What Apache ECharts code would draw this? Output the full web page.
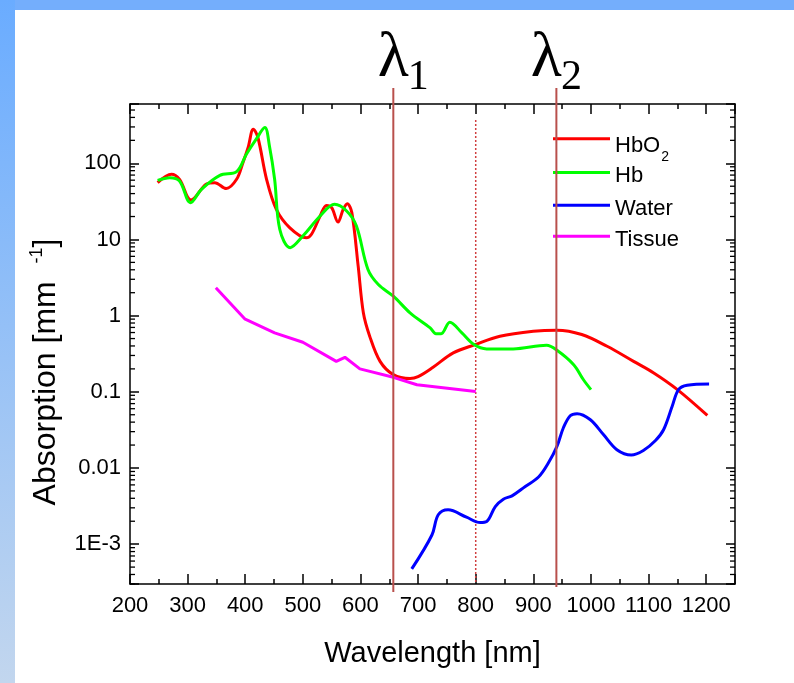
<!DOCTYPE html>
<html>
<head>
<meta charset="utf-8">
<script src="https://cdn.jsdelivr.net/npm/echarts@6/dist/echarts.min.js"></script>
<style>
  html, body { margin: 0; padding: 0; background: #ffffff; }
  #chart { width: 794px; height: 683px; }
</style>
</head>
<body>
<div id="chart"></div>
<script>
// Absorption spectra [mm^-1] against wavelength [nm]
const hbo2Spectrum = [
  [248, 55.7], [272, 71.7], [286, 61.6], [306, 32.9], [332, 53], [347, 55.7], [367, 46.5],
  [385, 61.6], [396, 102], [405, 161], [414, 280], [422, 218], [437, 61.6], [454, 24.8],
  [477, 14.3], [506, 10.5], [515, 11.7], [530, 20.3], [541, 28], [550, 26.1], [561, 16.9],
  [570, 24.8], [577, 29.5], [585, 22.5], [596, 4.47], [605, 1.09], [616, 0.537], [634, 0.251],
  [657, 0.168], [686, 0.149], [700, 0.158], [726, 0.21], [761, 0.324], [799, 0.417],
  [842, 0.537], [900, 0.624], [941, 0.645], [984, 0.565], [1028, 0.396], [1074, 0.251],
  [1109, 0.177], [1150, 0.107], [1202, 0.049]
];
const hbSpectrum = [
  [248, 59.7], [269, 64.6], [286, 58.5], [305, 30.4], [324, 45.5], [356, 69.5], [385, 77.6],
  [402, 131], [419, 207], [434, 294], [442, 169], [451, 61.6], [460, 13.5], [478, 7.8],
  [500, 11.1], [530, 20.3], [555, 28.9], [576, 23.6], [593, 15], [613, 4.04], [631, 2.56],
  [657, 1.8], [686, 1.09], [721, 0.69], [731, 0.58], [740, 0.58], [755, 0.82], [776, 0.594],
  [797, 0.417], [819, 0.366], [865, 0.366], [923, 0.408], [941, 0.351], [970, 0.227],
  [987, 0.144], [1000, 0.107]
];
const waterSpectrum = [
  [689, 4.73e-4], [724, 1.32e-3], [735, 2.43e-3], [752, 2.82e-3], [784, 2.26e-3],
  [808, 1.92e-3], [819, 1.98e-3], [834, 3.12e-3], [848, 3.9e-3], [863, 4.31e-3],
  [886, 5.72e-3], [909, 7.6e-3], [926, 0.0116], [941, 0.0192], [952, 0.0335], [964, 0.0486],
  [976, 0.0517], [999, 0.043], [1022, 0.0273], [1045, 0.0174], [1070, 0.0148], [1091, 0.017],
  [1112, 0.023], [1126, 0.0318], [1141, 0.0646], [1152, 0.107], [1167, 0.122], [1205, 0.127]
];
const tissueSpectrum = [
  [349, 2.32], [399, 0.908], [451, 0.595], [500, 0.447], [558, 0.251], [573, 0.284],
  [599, 0.2], [657, 0.155], [698, 0.124], [800, 0.101]
];

const seriesNames = ['HbO2', 'Hb', 'Water', 'Tissue'];
const seriesColors = ['#ff0000', '#00ff00', '#0000ff', '#ff00ff'];

const yTickValues = [1e-3, 0.01, 0.1, 1, 10, 100];
const yTickTexts = ['1E-3', '0.01', '0.1', '1', '10', '100'];

// Probe wavelengths λ1, λ2 and the dotted reference line
const probeWavelengths = [657, 940];
const probeSubscripts = ['1', '2'];
const referenceWavelengths = [800];

const X_MIN = 200, X_MAX = 1250, Y_MIN = 3e-4, Y_MAX = 600;
const FONT = '"Liberation Sans", Arial, sans-serif';
const SERIF = '"Liberation Serif", "Times New Roman", serif';

// log minor ticks (2..9 × 10^k) inside the axis range
const yMinorTicks = [];
for (let k = -4; k <= 2; k++) {
  for (let m = 2; m <= 9; m++) {
    const v = m * Math.pow(10, k);
    if (v > Y_MIN && v < Y_MAX) yMinorTicks.push([X_MIN, v]);
  }
}

const lambdaShift = [0, -10];
const lineOverhang = [8, 3];

const chart = echarts.init(document.getElementById('chart'), null, { renderer: 'canvas' });

const axisLineStyle = { color: '#000', width: 1.5 };

function xAxisBase(position, showLabels) {
  return {
    type: 'value', position, min: X_MIN, max: X_MAX, interval: 100,
    axisLine: { show: true, onZero: false, lineStyle: axisLineStyle },
    axisTick: { show: true, inside: true, length: 10, lineStyle: { color: '#000', width: 1.5 } },
    minorTick: { show: true, splitNumber: 2, length: 5, lineStyle: { color: '#000', width: 1.5 } },
    splitLine: { show: false },
    minorSplitLine: { show: false },
    axisLabel: {
      show: showLabels, fontSize: 22, fontFamily: FONT, color: '#000', margin: 11,
      formatter: v => (v % 100 === 0 && v <= 1200) ? String(v) : ''
    }
  };
}

function yAxisBase(position, showLabels) {
  return {
    type: 'log', logBase: 10, position, min: Y_MIN, max: Y_MAX,
    axisLine: { show: true, onZero: false, lineStyle: axisLineStyle },
    axisTick: { show: true, inside: true, length: 9, lineStyle: { color: '#000', width: 1.5 } },
    splitLine: { show: false },
    axisLabel: {
      show: showLabels, fontSize: 22, fontFamily: FONT, color: '#000', margin: 9,
      formatter: v => {
        const i = yTickValues.findIndex(t => Math.abs(Math.log10(t) - Math.log10(v)) < 1e-6);
        return i >= 0 ? yTickTexts[i] : '';
      }
    }
  };
}

const legendTops = [126.8, 157.4, 190.3, 221.2];
const legends = seriesNames.map((name, i) => ({
  data: [name],
  orient: 'vertical',
  left: 553,
  top: legendTops[i],
  padding: 0,
  icon: 'rect',
  itemWidth: 57,
  itemHeight: 3,
  selectedMode: false,
  formatter: n => n === 'HbO2' ? '{m|HbO}{sub|2}' : '{n|' + n + '}',
  textStyle: {
    fontSize: 22, fontFamily: FONT, color: '#000',
    rich: {
      n: { fontSize: 22, fontFamily: FONT, color: '#000', lineHeight: 24, padding: [8, 0, 0, 0] },
      m: { fontSize: 22, fontFamily: FONT, color: '#000', lineHeight: 24, padding: [8, 0, 0, 0], verticalAlign: 'top' },
      sub: { fontSize: 14, fontFamily: FONT, color: '#000', lineHeight: 14, padding: [23, 0, 0, 1], verticalAlign: 'top' }
    }
  }
}));

const spectra = [hbo2Spectrum, hbSpectrum, waterSpectrum, tissueSpectrum];
const smoothing = [0.35, 0.35, 0.35, 0];

const lineSeries = spectra.map((data, i) => ({
  name: seriesNames[i],
  type: 'line',
  data,
  symbol: 'none',
  smooth: smoothing[i],
  clip: true,
  lineStyle: { color: seriesColors[i], width: 3 },
  itemStyle: { color: seriesColors[i] },
  z: 3 + i
}));

const option = {
  animation: false,
  backgroundColor: '#ffffff',
  graphic: [
    { type: 'rect', z: -10, shape: { x: 0, y: 0, width: 794, height: 10 }, style: { fill: '#74aefc' } },
    {
      type: 'rect', z: -10, shape: { x: 0, y: 0, width: 15, height: 683 },
      style: {
        fill: {
          type: 'linear', x: 0, y: 0, x2: 0, y2: 1,
          colorStops: [{ offset: 0, color: '#6aacff' }, { offset: 1, color: '#c2d6ee' }]
        }
      }
    }
  ],
  grid: { left: 130, right: 59, top: 104, bottom: 99, containLabel: false, outerBoundsMode: 'none' },
  legend: legends,
  xAxis: [
    Object.assign(xAxisBase('bottom', true), {
      name: 'Wavelength [nm]', nameLocation: 'middle', nameGap: 55,
      nameTextStyle: { fontSize: 29, fontFamily: FONT, color: '#000' }
    }),
    xAxisBase('top', false)
  ],
  yAxis: [
    Object.assign(yAxisBase('left', true), {
      name: '{m|Absorption [mm  }{sup|-1}{m|]}', nameLocation: 'middle', nameGap: 70, nameRotate: 90,
      nameTextStyle: {
        fontSize: 32, fontFamily: FONT, color: '#000', padding: [0, 56, 0, 0],
        rich: {
          m: { fontSize: 32, fontFamily: FONT, color: '#000', lineHeight: 32, padding: [5, 0, 0, 0] },
          sup: { fontSize: 18, fontFamily: FONT, color: '#000', lineHeight: 18, verticalAlign: 'top' }
        }
      }
    }),
    yAxisBase('right', false)
  ],
  series: [
    ...lineSeries,
    {
      // minor log ticks on left and right frame
      type: 'custom', silent: true, clip: false, z: 10,
      xAxisIndex: 0, yAxisIndex: 0,
      data: yMinorTicks,
      encode: { x: 0, y: 1 },
      renderItem: (params, api) => {
        const v = api.value(1);
        const l = api.coord([X_MIN, v]);
        const r = api.coord([X_MAX, v]);
        return {
          type: 'group', children: [
            { type: 'line', shape: { x1: l[0], y1: l[1], x2: l[0] + 5, y2: l[1] }, style: { stroke: '#000', lineWidth: 1.3 } },
            { type: 'line', shape: { x1: r[0], y1: r[1], x2: r[0] - 5, y2: r[1] }, style: { stroke: '#000', lineWidth: 1.3 } }
          ]
        };
      }
    },
    {
      // dotted reference wavelength
      type: 'custom', silent: true, clip: false, z: 2,
      data: referenceWavelengths.map(w => [w, Y_MIN]),
      encode: { x: 0, y: 1 },
      renderItem: (params, api) => {
        const w = api.value(0);
        const b = api.coord([w, Y_MIN]);
        const t = api.coord([w, Y_MAX]);
        return {
          type: 'line',
          shape: { x1: b[0], y1: t[1] + 16, x2: b[0], y2: b[1] },
          style: { stroke: '#d04040', lineWidth: 1.5, lineDash: [2, 2] }
        };
      }
    },
    {
      // λ1 / λ2 probe lines with their labels
      type: 'custom', silent: true, clip: false, z: 8,
      data: probeWavelengths.map(w => [w, Y_MIN]),
      encode: { x: 0, y: 1 },
      renderItem: (params, api) => {
        const i = params.dataIndex;
        const w = api.value(0);
        const b = api.coord([w, Y_MIN]);
        const t = api.coord([w, Y_MAX]);
        const lx = b[0] + lambdaShift[i];
        return {
          type: 'group', children: [
            { type: 'line', shape: { x1: b[0], y1: t[1] - 16, x2: b[0], y2: b[1] + lineOverhang[i] },
              style: { stroke: '#b9504c', lineWidth: 2 } },
            { type: 'text', x: lx, y: t[1] - 45,
              style: { text: 'λ', font: '64px ' + SERIF, fill: '#000', align: 'center', verticalAlign: 'middle' } },
            { type: 'text', x: lx + 25, y: t[1] - 26.5,
              style: { text: probeSubscripts[i], font: '42px ' + SERIF, fill: '#000', align: 'center', verticalAlign: 'middle' } }
          ]
        };
      }
    }
  ]
};

chart.setOption(option);
</script>
</body>
</html>
